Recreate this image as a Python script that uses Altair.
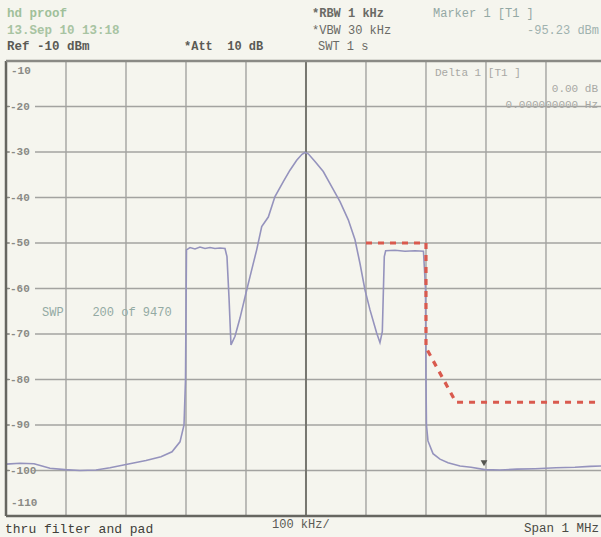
import altair as alt
import pandas as pd

# ---- data (frequency offset in kHz, level in dBm) ----
trace_freq = [-500, -476.7, -453.3, -426.7, -401.7, -376.7, -350, -326.7, -300, -266.7,
              -241.7, -223.3, -210, -203.3, -200.8, -199.2, -193.3, -185, -176.7, -168.3,
              -160, -151.7, -143.3, -135, -131.7, -128.3, -125, -118.3, -110, -100,
              -93.3, -82.2, -73.8, -62.8, -51.7, -37.8, -26.7, -15.5, -6.7, -1.7,
              3.8, 15, 28.8, 42.8, 56.7, 70.5, 81.7, 90, 98.3, 106.7,
              117.8, 123.3, 127.2, 130.5, 132.8, 148.3, 165, 181.7, 195.8, 199.2,
              200, 200.8, 203.3, 211.7, 223.3, 236.7, 256.7, 275, 298.3, 323.3,
              351.7, 381.7, 416.7, 448.3, 473.3, 491.7]
trace_level = [-98.6, -98.4, -98.5, -99.5, -99.8, -100.0, -99.9, -99.4, -98.7, -97.8,
               -97.0, -95.9, -93.7, -90.0, -80.0, -51.5, -51.0, -51.3, -50.9, -51.2,
               -51.0, -51.2, -51.1, -51.2, -53.0, -62.0, -72.4, -70.5, -66.5, -61.0,
               -57.4, -51.5, -46.4, -44.3, -39.8, -36.5, -34.0, -31.8, -30.5, -30.1,
               -30.4, -32.1, -34.3, -37.6, -40.9, -44.9, -49.3, -54.5, -60.3, -64.7,
               -69.8, -71.9, -69.5, -53.0, -51.7, -51.6, -51.8, -51.7, -51.8, -60.0,
               -80.0, -90.0, -93.5, -96.3, -97.5, -98.3, -99.0, -99.3, -99.8, -99.9,
               -99.7, -99.6, -99.4, -99.3, -99.1, -99.0]

limit_freq = [100, 200, 200, 250, 500]
limit_level = [-50, -50, -73, -85, -85]

marker_freq = [296.7]
marker_level = [-98.4]

x_grid = [-400, -300, -200, -100, 100, 200, 300, 400]
y_grid = [-20, -30, -40, -50, -60, -70, -80, -90, -100]
y_labels = ["-20", "-30", "-40", "-50", "-60", "-70", "-80", "-90", "-100"]

BG = "#f5f5ee"
GRID = "#a3a3a0"
FONT = "Liberation Mono"
W, H = 595, 455
NB = "\u00a0"

xs = alt.Scale(domain=[-500, 491.7], nice=False, zero=False)
ys = alt.Scale(domain=[-110, -10], nice=False, zero=False)

trace_df = pd.DataFrame({"f": trace_freq, "l": trace_level})
limit_df = pd.DataFrame({"f": limit_freq, "l": limit_level})
marker_df = pd.DataFrame({"f": marker_freq, "l": marker_level})
xg_df = pd.DataFrame({"f": x_grid})
yg_df = pd.DataFrame({"l": y_grid, "t": y_labels})

vgrid = alt.Chart(xg_df).mark_rule(color=GRID, strokeWidth=1.4).encode(
    x=alt.X("f:Q", scale=xs, axis=None))
hgrid = alt.Chart(yg_df).mark_rule(color=GRID, strokeWidth=1.4).encode(
    y=alt.Y("l:Q", scale=ys, axis=None))
center = alt.Chart(pd.DataFrame({"f": [0]})).mark_rule(color="#777770", strokeWidth=2).encode(
    x=alt.X("f:Q", scale=xs, axis=None))
left_frame = alt.Chart(pd.DataFrame({"f": [-500]})).mark_rule(color="#666660", strokeWidth=2.5).encode(
    x=alt.X("f:Q", scale=xs, axis=None))
top_frame = alt.Chart(pd.DataFrame({"l": [-10]})).mark_rule(color="#8a8a85", strokeWidth=2.5).encode(
    y=alt.Y("l:Q", scale=ys, axis=None))
bot_frame = alt.Chart(pd.DataFrame({"l": [-110]})).mark_rule(color="#666660", strokeWidth=2.5).encode(
    y=alt.Y("l:Q", scale=ys, axis=None))

label_bg = alt.Chart(yg_df).mark_rect(color=BG, height=10).encode(
    x=alt.value(3), x2=alt.value(29), y=alt.Y("l:Q", scale=ys, axis=None))
label_tick = alt.Chart(yg_df).mark_rule(color="#8a8a85", strokeWidth=1.2).encode(
    x=alt.value(0), x2=alt.value(4), y=alt.Y("l:Q", scale=ys, axis=None))
label_txt = alt.Chart(yg_df).mark_text(font=FONT, fontSize=11, fontWeight="bold", color="#8a8a85",
                                        align="left", baseline="middle").encode(
    x=alt.value(4), y=alt.Y("l:Q", scale=ys, axis=None), text="t:N")

trace = alt.Chart(trace_df).mark_line(color="#9593bd", strokeWidth=1.6, clip=True).encode(
    x=alt.X("f:Q", scale=xs, axis=None), y=alt.Y("l:Q", scale=ys, axis=None))
limit = alt.Chart(limit_df).mark_line(color="#d95a4e", strokeWidth=3.2, strokeDash=[6, 6], clip=True).encode(
    x=alt.X("f:Q", scale=xs, axis=None), y=alt.Y("l:Q", scale=ys, axis=None))
marker = alt.Chart(marker_df).mark_point(shape="triangle-down", filled=True, color="#55554f",
                                         size=45, opacity=1).encode(
    x=alt.X("f:Q", scale=xs, axis=None), y=alt.Y("l:Q", scale=ys, axis=None))


def label(text, x, y, color, size=12, align="left", weight="normal"):
    return alt.Chart(pd.DataFrame({"t": [text]})).mark_text(
        font=FONT, fontSize=size, color=color, align=align, baseline="middle",
        fontWeight=weight).encode(x=alt.value(x - 6), y=alt.value(y - 61), text="t:N")


texts = [
    label("hd proof", 7, 13, "#9fc09a", 12.5, weight="bold"),
    label("13.Sep 10 13:18", 7, 30, "#a8c4a2", 12.5, weight="bold"),
    label("Ref -10 dBm", 7, 46, "#5a5a55", 12.5, weight="bold"),
    label("*Att" + NB * 2 + "10 dB", 184, 46, "#5a5a55", 12, weight="bold"),
    label("*RBW 1 kHz", 312, 13, "#6a6a65", 12, weight="bold"),
    label("*VBW 30 kHz", 312, 30, "#6a6a65", 12),
    label(NB + "SWT 1 s", 318, 46, "#6a6a65", 12),
    label("Marker 1 [T1 ]", 433, 13, "#93a8a4", 12),
    label("-95.23 dBm", 599, 30, "#a0b2ae", 12, align="right"),
    label("thru filter and pad", 5, 529, "#3f3f3a", 13),
    label("100 kHz/", 272, 524, "#5a5a55", 12),
    label("Span 1 MHz", 599, 528, "#4a4a45", 12.5, align="right"),
    label("-10", 11, 71, "#8a8a85", 11, weight="bold"),
    label("-110", 11, 503, "#8a8a85", 11, weight="bold"),
    label("SWP" + NB * 4 + "200 of 9470", 42, 312, "#93aaa3", 12),
    label("Delta 1 [T1 ]", 435, 73, "#a8a8a4", 11),
    label("0.00 dB", 598, 89, "#a8a8a4", 11, align="right"),
    label("0.000000000 Hz", 598, 105, "#a8a8a4", 11, align="right"),
]

chart = alt.layer(
    vgrid, hgrid, center, label_bg, label_tick, label_txt, trace, limit, marker,
    left_frame, top_frame, bot_frame, *texts
).properties(
    width=W, height=H,
    background=BG,
    padding={"left": 6, "top": 61, "right": 0, "bottom": 21},
    autosize=alt.AutoSizeParams(type="none"),
).configure_view(stroke=None, fill=BG)

chart.save("out.html", embed_options={"renderer": "svg", "actions": False})
